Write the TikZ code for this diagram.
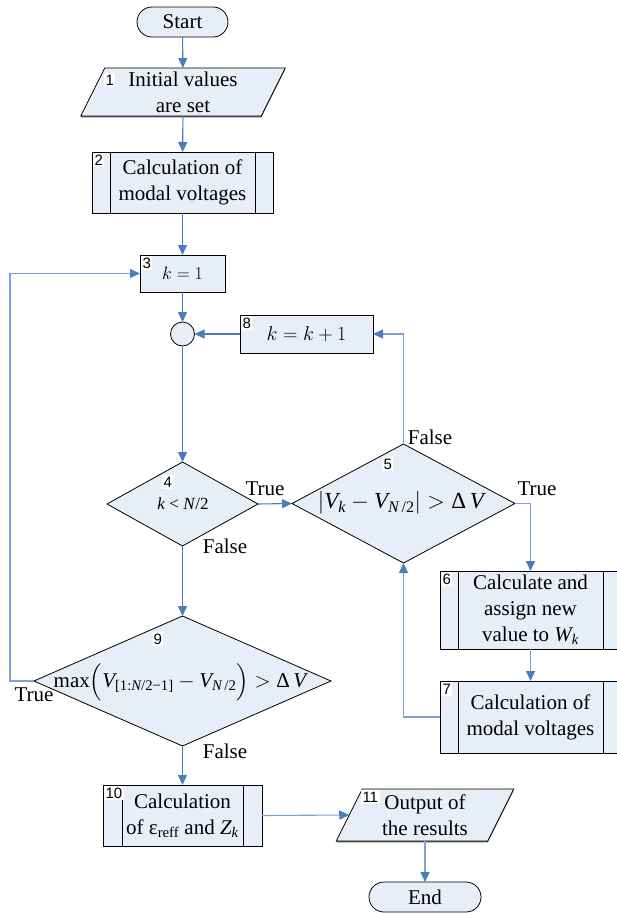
\RequirePackage{fix-cm}
\documentclass[tikz,border=0pt]{standalone}
\usepackage{amsmath}
\usepackage{fontspec}
\setmainfont{Liberation Serif}
\setsansfont{Liberation Sans}
\usetikzlibrary{arrows.meta,shapes.geometric,backgrounds,shadows}
\definecolor{boxfill}{RGB}{232,238,247}
\definecolor{lineblue}{RGB}{74,126,187}
\definecolor{lightblue}{RGB}{126,162,209}
\newcommand{\bodyfs}{\fontsize{21}{26}\selectfont}
\newcommand{\mvar}[1]{\textit{#1}}
\begin{document}
\begin{tikzpicture}[x=1pt,y=-1pt,
  every node/.style={inner sep=0pt, outer sep=0pt},
  shapeline/.style={draw=black, line width=0.8pt, fill=boxfill},
  boxshadow/.style={drop shadow={shadow xshift=0pt, shadow yshift=-1.3pt, fill=black!65, opacity=1}},
  procbox/.style={shapeline, boxshadow, rectangle, font=\bodyfs, align=center},
  predef/.style={procbox, path picture={
      \draw[line width=0.8pt] ([xshift=#1]path picture bounding box.north west) -- ([xshift=#1]path picture bounding box.south west);
      \draw[line width=0.8pt] ([xshift=-#1]path picture bounding box.north east) -- ([xshift=-#1]path picture bounding box.south east);}},
  predef/.default=18pt,
  terminal/.style={shapeline, rectangle, rounded corners=15pt, font=\bodyfs, minimum height=30pt},
  decision/.style={shapeline, diamond},
  iotext/.style={font=\bodyfs, align=center},
  numlab/.style={fill=white, inner sep=1.5pt, anchor=north west, font=\sffamily\fontsize{15}{15}\selectfont, text height=10.5pt, text depth=0pt},
  lbl/.style={font=\bodyfs},
  flow/.style={draw=lineblue, line width=1.1pt, -{Triangle[length=10pt,width=9pt,color=lineblue]}},
  flowlight/.style={flow, draw=lightblue}]
\useasboundingbox (0,0) rectangle (617,913);

% nodes
\node[terminal, minimum width=91pt] (start) at (182.5,22) {Start};
\node[iotext, minimum width=180.5pt, minimum height=48pt] (n1) at (183,92) {Initial values\\are set};
\node[predef, minimum width=181pt, minimum height=61pt] (n2) at (182.5,182.5) {Calculation of\\modal voltages};
\node[procbox, minimum width=85pt, minimum height=37pt] (n3) at (182.5,273.5) {\fontsize{18}{20}\selectfont$k=1$};
\node[shapeline, circle, minimum size=24pt] (jn) at (182.5,334) {};
\node[procbox, minimum width=133pt, minimum height=38pt] (n8) at (306.5,334) {\fontsize{20}{22}\selectfont$k=k+1$};
\node[decision, minimum width=151pt, minimum height=84pt] (d4) at (182.5,504) {};
\node[font=\fontsize{17}{20}\selectfont] (d4t) at (183,504) {\mvar{k} < \mvar{N}/2};
\node[decision, minimum width=223pt, minimum height=119pt] (d5) at (403.5,503.5) {};
\node (d5t) at (401,503) {\fontsize{23}{26}\selectfont$\left|\mvar{V}_{\mvar{k}} - \mvar{V}_{\mvar{N}\,\text{/2}}\right| > \text{Δ}\,\mvar{V}$};
\node[predef, minimum width=181pt, minimum height=78pt] (n6) at (530.5,610) {Calculate and\\assign new\\value to $\mvar{W}_{\mvar{k}}$};
\node[predef, minimum width=181pt, minimum height=72pt] (n7) at (530.5,717) {Calculation of\\modal voltages};
\node[decision, minimum width=297pt, minimum height=130pt] (d9) at (182.5,681) {};
\node (d9t) at (180,682) {\fontsize{21}{24}\selectfont$\text{max}\Bigl(\mvar{V}_{\text{[1:}\mvar{N}\text{/2−1]}} - \mvar{V}_{\mvar{N}\,\text{/2}}\Bigr) > \text{Δ}\,\mvar{V}$};
\node[predef=19pt, minimum width=159pt, minimum height=61pt] (n10) at (182.5,815.5) {Calculation\\of ε$_{\text{reff}}$ and $\mvar{Z}_{\mvar{k}}$};
\node[iotext, minimum width=151.5pt, minimum height=52pt] (n11) at (425,815) {Output of\\the results};
\node[terminal, minimum width=112pt] (end) at (425,897) {End};

% parallelograms behind their texts
\begin{scope}[on background layer]
\filldraw[shapeline, boxshadow] ([xshift=12pt]n1.north west) -- ([xshift=12pt]n1.north east) -- ([xshift=-12pt]n1.south east) -- ([xshift=-12pt]n1.south west) -- cycle;
\filldraw[shapeline, boxshadow] ([xshift=13pt]n11.north west) -- ([xshift=13pt]n11.north east) -- ([xshift=-13pt]n11.south east) -- ([xshift=-13pt]n11.south west) -- cycle;
\end{scope}

% number labels
\node[numlab] (l1) at (104,73) {1};
\node[numlab] (l2) at (93,153) {2};
\node[numlab] (l3) at (141,256) {3};
\node[numlab] (l8) at (241,316) {8};
\node[numlab] (l4) at (162,475) {4};
\node[numlab] (l5) at (382,457) {5};
\node[numlab] (l6) at (441,572) {6};
\node[numlab] (l7) at (441,682) {7};
\node[numlab] (l9) at (152,632) {9};
\node[numlab] (l10) at (104,786) {10};
\node[numlab] (l11) at (361,790) {11};

% connectors
\coordinate (loopL) at (10,681);
\draw[flow] (start) -- (n1);
\draw[flow] (n1) -- (n2);
\draw[flow] (n2) -- (n3);
\draw[flow] (n3) -- (jn);
\draw[flow] (n8) -- (jn);
\draw[flow] (jn) -- (d4.north);
\draw[flow] (d4.east) -- (d5.west);
\draw[flowlight] (d5.north) |- (n8.east);
\draw[flowlight] (d5.east) -| (n6.north);
\draw[flowlight] (n6) -- (n7);
\draw[flowlight] (n7.west) -| (d5.south);
\draw[flow] (d4.south) -- (d9.north);
\draw[flowlight] (d9.west) -- (loopL) |- (n3.west);
\draw[flow] (d9.south) -- (n10.north);
\draw[flowlight] (n10.east) -- (n11.west);
\draw[flowlight] (n11) -- (end);

% branch labels
\node[lbl] (t4) at (265,489) {True};
\node[lbl] (f4) at (225,546) {False};
\node[lbl] (f5) at (430,437) {False};
\node[lbl] (t5) at (537,489) {True};
\node[lbl] (t9) at (34,695) {True};
\node[lbl] (f9) at (225,751) {False};
\end{tikzpicture}
\end{document}
